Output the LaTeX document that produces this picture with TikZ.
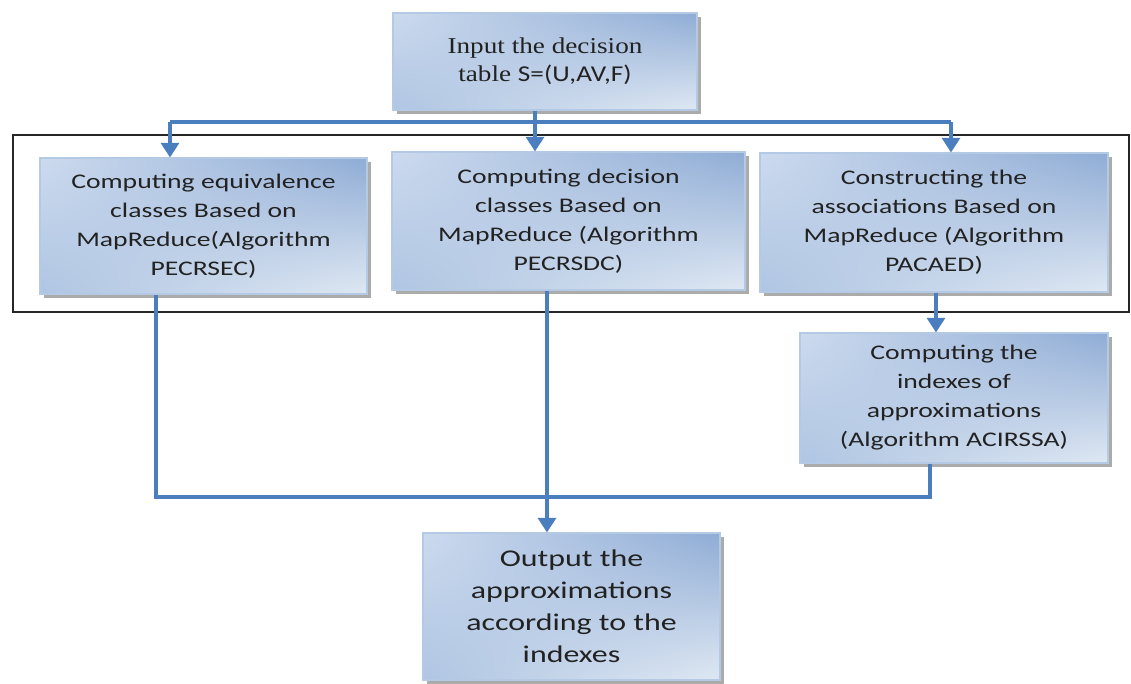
\documentclass[tikz,border=0pt]{standalone}
\usepackage{fontspec}
\setmainfont{Liberation Serif}
\newfontfamily\boxfont[FakeStretch=1.33]{Carlito}
\newfontfamily\topserif[FakeStretch=1.2]{Liberation Serif}
\newfontfamily\topsans[FakeStretch=1.2]{Carlito}
\usetikzlibrary{shadows,arrows.meta,shadings}
\definecolor{lineblue}{HTML}{4A7EBF}
\definecolor{boxedge}{HTML}{B4C9E4}
\definecolor{cUL}{HTML}{CCDAEE}
\definecolor{cUR}{HTML}{8FACD5}
\definecolor{cLL}{HTML}{AFC5E2}
\definecolor{cLR}{HTML}{DFE8F3}
\definecolor{textgray}{HTML}{222222}
\tikzset{
  box/.style={rectangle, draw=boxedge, line width=0.8pt,
    upper left=cUL, upper right=cUR, lower left=cLL, lower right=cLR,
    drop shadow={shadow xshift=3pt, shadow yshift=-3pt, fill=black!55, opacity=0.6},
    align=center, text=textgray, inner sep=0pt},
  smallbox/.style={box, font=\boxfont\fontsize{15.6pt}{21.75pt}\selectfont},
  bigbox/.style={box, font=\boxfont\fontsize{18pt}{24pt}\selectfont},
  topbox/.style={box, font=\topserif\fontsize{17pt}{21pt}\selectfont},
  arr/.style={draw=lineblue, line width=2.6pt, -{Triangle[width=13.5pt,length=11pt]}},
  plain/.style={draw=lineblue, line width=2.6pt},
  frame/.style={draw=black!85, line width=1.5pt}
}
\begin{document}
\begin{tikzpicture}[x=0.75pt,y=-0.75pt]
\useasboundingbox (0,0) rectangle (1131,684);
% frame
\draw[frame] (13,135) rectangle (1129,312);
% nodes
\node[topbox, minimum width=228pt, minimum height=72.75pt] (top) at (545,61.5)
  {\raisebox{5pt}{\begin{tabular}{@{}c@{}}Input the decision\\table \topsans S=(U,AV,F)\end{tabular}}};
\node[smallbox, minimum width=245.25pt, minimum height=102pt] (b1) at (203.5,226)
  {Computing equivalence\\classes Based on\\MapReduce(Algorithm\\PECRSEC)};
\node[smallbox, minimum width=264.75pt, minimum height=103.5pt] (b2) at (568.5,221)
  {Computing decision\\classes Based on\\MapReduce (Algorithm\\PECRSDC)};
\node[smallbox, minimum width=261pt, minimum height=104.25pt] (b3) at (934,222.5)
  {Constructing the\\associations Based on\\MapReduce (Algorithm\\PACAED)};
\node[smallbox, minimum width=231pt, minimum height=97.5pt] (b4) at (954,398)
  {Computing the\\indexes of\\approximations\\(Algorithm ACIRSSA)};
\node[bigbox, minimum width=222.75pt, minimum height=110.25pt] (out) at (571.5,606.5)
  {Output the\\approximations\\according to the\\indexes};
% junction coordinates
\coordinate (jm) at (535,122);
\coordinate (jl) at (170,122);
\coordinate (jr) at (951,122);
\coordinate (m1) at (156,497);
\coordinate (m2) at (547,497);
\coordinate (m4) at (930,497);
\coordinate (c3) at (936,312);
% connectors
\draw[plain] (jl) -- (jr);
\draw[arr] (top.south -| jm) -- (b2.north -| jm);
\draw[arr] (jl) -- (b1.north -| jl);
\draw[arr] (jr) -- (b3.north -| jr);
\draw[arr] (b3.south -| c3) -- (b4.north -| c3);
\draw[plain] (b1.south -| m1) -- (m1) -- (m4) -- (b4.south -| m4);
\draw[arr] (b2.south -| m2) -- (out.north -| m2);
\end{tikzpicture}
\end{document}
